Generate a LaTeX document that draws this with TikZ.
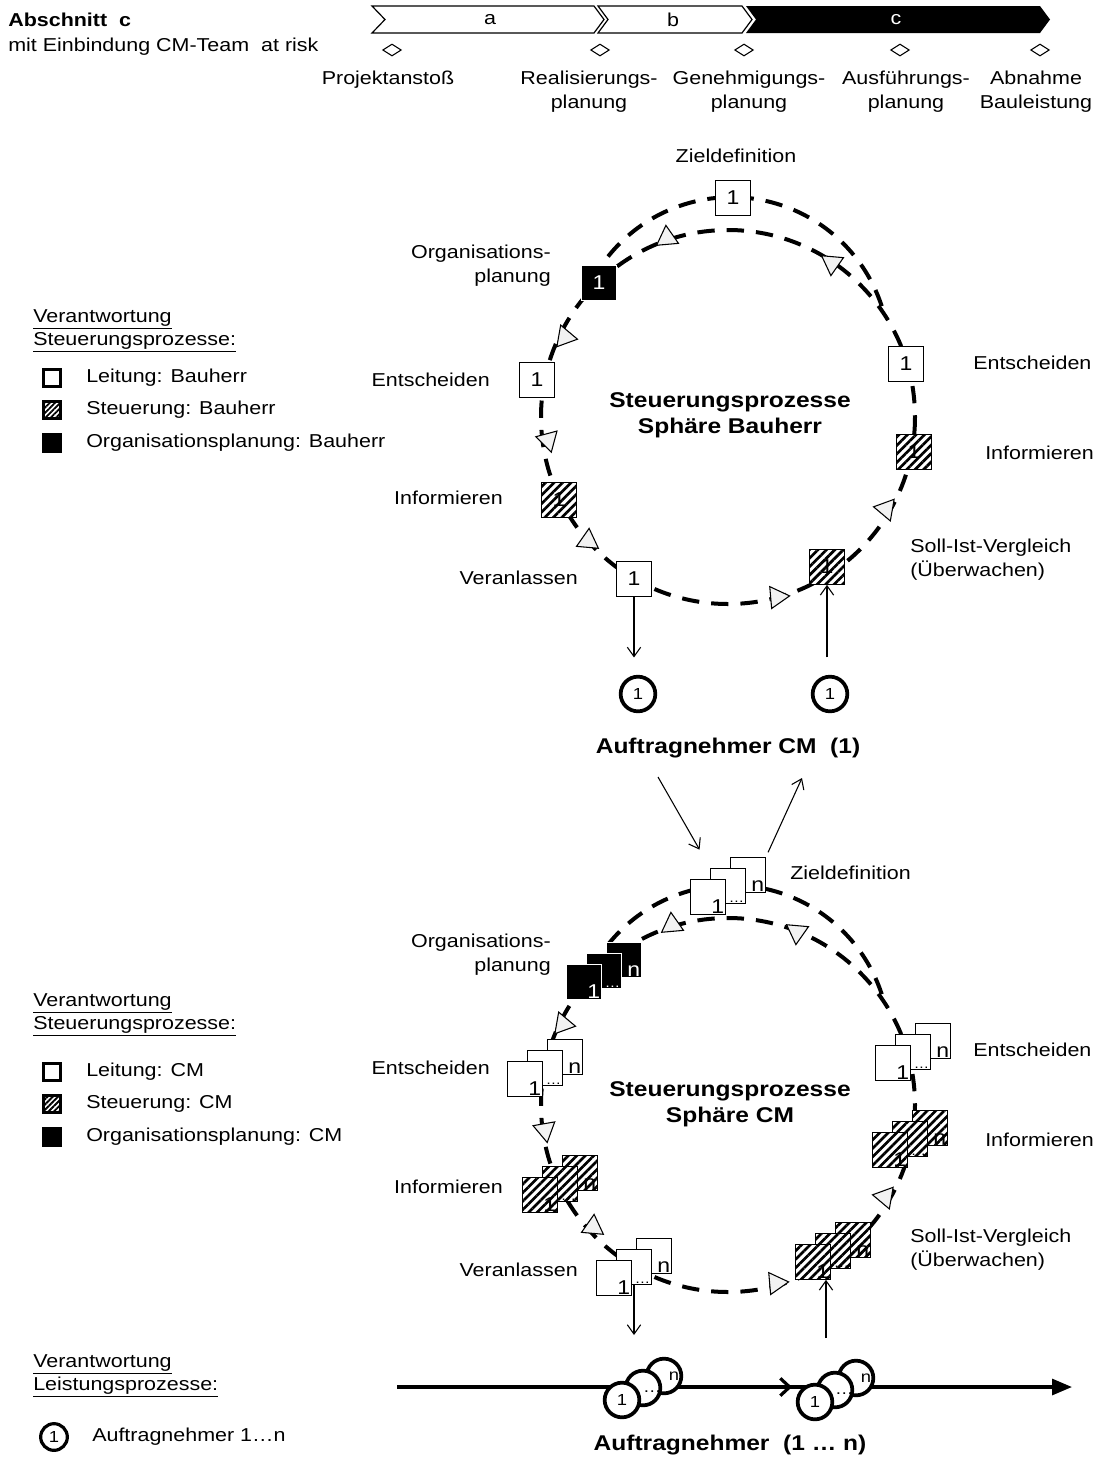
\documentclass[tikz,border=0pt]{standalone}
\usepackage{fontspec}
\setmainfont{Liberation Sans}[FakeStretch=1.15]
\usetikzlibrary{positioning,shapes.geometric,arrows.meta,patterns.meta}

\begin{document}
\begin{tikzpicture}[x=0.75pt,y=-0.75pt,
  txt/.style={font=\fontsize{14}{18}\selectfont, inner sep=0pt},
  head/.style={font=\bfseries\fontsize{16}{19.5}\selectfont, align=center, inner sep=0pt},
  box/.style={draw, minimum size=26pt, inner sep=0pt, line width=0.8pt, font=\fontsize{15}{15}\selectfont},
  lead/.style={box, fill=white},
  steer/.style={box, preaction={fill=white}, pattern={Lines[angle=45,distance=4.5pt,line width=2pt]}},
  orga/.style={box, fill=black, draw=white, text=white},
  nb/.style={label={[anchor=south east,inner sep=1pt,font=\fontsize{15}{15}\selectfont]south east:#1}},
  nw/.style={label={[anchor=south east,inner sep=1pt,text=white,font=\fontsize{15}{15}\selectfont]south east:#1}},
  ring/.style={line width=3pt, dash pattern=on 13pt off 9pt},
  tri/.style={regular polygon, regular polygon sides=3, draw, fill=black!5, minimum size=19pt, inner sep=0pt, line width=0.8pt, rotate=#1},
  an/.style={circle, draw, fill=white, line width=2.8pt, minimum size=26pt, inner sep=0pt, font=\fontsize{12}{12}\selectfont},
  anl/.style={label={[anchor=center,label distance=-7pt,font=\fontsize{12}{12}\selectfont]#1}},
  arr/.style={-{Straight Barb[length=7pt,width=10pt]}, line width=0.8pt},
  chev/.style={draw, line width=0.9pt},
  ms/.style={diamond, draw, line width=0.8pt, minimum width=14pt, minimum height=9pt, inner sep=0pt},
  icon/.style={minimum size=13pt, inner sep=0pt}
]
\useasboundingbox (0,0) rectangle (1105,1461);

% Kopfzeile
\node[txt, anchor=west, font=\bfseries\fontsize{14}{18}\selectfont] (ab) at (8,20) {Abschnitt~~c};
\node[txt, anchor=west] (ein) at (8,47) {mit Einbindung CM-Team~~at risk};

\draw[chev, fill=white] (372,6) -- (594,6) -- (604,19.5) -- (594,33) -- (372,33) -- (385,19.5) -- cycle;
\draw[chev, fill=white] (598,6) -- (742,6) -- (752,19.5) -- (742,33) -- (598,33) -- (608,19.5) -- cycle;
\fill (746,6) -- (1040,6) -- (1050,19.5) -- (1040,33) -- (746,33) -- (756,19.5) -- cycle;
\node[txt] (pa) at (490,19.5) {a};
\node[txt] (pb) at (673,19.5) {b};
\node[txt, text=white] (pc) at (896,19.5) {c};

\node[ms] (m1) at (392,50) {};
\node[ms] (m2) at (600,50) {};
\node[ms] (m3) at (744,50) {};
\node[ms] (m4) at (900,50) {};
\node[ms] (m5) at (1040,50) {};
\node[txt] (lm1) at (388,80) {Projektanstoß};
\node[txt, align=center] (lm2) at (589,92) {Realisierungs-\\planung};
\node[txt, align=center] (lm3) at (749,92) {Genehmigungs-\\planung};
\node[txt, align=center] (lm4) at (906,92) {Ausführungs-\\planung};
\node[txt, align=center] (lm5) at (1036,92) {Abnahme\\Bauleistung};

% Legenden
\node[txt, anchor=north west, align=left, font=\fontsize{14}{17.5}\selectfont] (leg1) at (33,309) {\underline{Verantwortung}\\\underline{Steuerungsprozesse:}};
\node[icon, draw, fill=white, line width=2.5pt] (q1a) at (52,378) {};
\node[icon, draw, line width=1.8pt, preaction={fill=white}, pattern={Lines[angle=45,distance=2.8pt,line width=1.4pt]}] (q1b) at (52,410) {};
\node[icon, fill=black, minimum size=14.5pt] (q1c) at (52,443) {};
\node[txt, anchor=west] (lq1a) at (86,378) {Leitung: Bauherr};
\node[txt, anchor=west] (lq1b) at (86,410) {Steuerung: Bauherr};
\node[txt, anchor=west] (lq1c) at (86,443) {Organisationsplanung: Bauherr};

\node[txt, anchor=north west, align=left, font=\fontsize{14}{17.5}\selectfont] (leg2) at (33,993) {\underline{Verantwortung}\\\underline{Steuerungsprozesse:}};
\node[icon, draw, fill=white, line width=2.5pt] (q2a) at (52,1072) {};
\node[icon, draw, line width=1.8pt, preaction={fill=white}, pattern={Lines[angle=45,distance=2.8pt,line width=1.4pt]}] (q2b) at (52,1104) {};
\node[icon, fill=black, minimum size=14.5pt] (q2c) at (52,1137) {};
\node[txt, anchor=west] (lq2a) at (86,1072) {Leitung: CM};
\node[txt, anchor=west] (lq2b) at (86,1104) {Steuerung: CM};
\node[txt, anchor=west] (lq2c) at (86,1137) {Organisationsplanung: CM};

\node[txt, anchor=north west, align=left, font=\fontsize{14}{17.5}\selectfont] (leg3) at (33,1354) {\underline{Verantwortung}\\\underline{Leistungsprozesse:}};
\node[an, minimum size=20pt, line width=2.4pt] (q3) at (54,1437) {1};
\node[txt, anchor=west] (lq3) at (92,1437) {Auftragnehmer 1…n};

% Regelkreis Bauherr
\coordinate (c1) at (728,417);
\draw[ring] (c1) circle[radius=187];
\draw[ring] (592,281) arc[start angle=-152, end angle=-17, radius=158];

\node[tri=-100] (t1) at (565,337) {};
\node[tri=-165] (t2) at (548,440) {};
\node[tri=-125] (t3) at (588,541) {};
\node[tri=-85] (t4) at (777,597) {};
\node[tri=-40] (t5) at (886,509) {};
\node[tri=5] (t6) at (667,238) {};
\node[tri=-185] (t7) at (832,263) {};

\node[lead] (z1) at (733,198) {1};
\node[orga] (o1) at (599,283) {1};
\node[lead] (e1) at (537,380) {1};
\node[steer] (i1) at (559,500) {1};
\node[lead] (v1) at (634,579) {1};
\node[steer] (s1) at (827,567) {1};
\node[steer] (j1) at (914,452) {1};
\node[lead] (f1) at (906,364) {1};

\node[txt] (lz1) at (736,156) {Zieldefinition};
\node[txt, anchor=east, align=right] (lo1) at (551,266) {Organisations-\\planung};
\node[txt, anchor=east] (le1) at (490,380) {Entscheiden};
\node[txt, anchor=east] (li1) at (503,498) {Informieren};
\node[txt, anchor=east] (lv1) at (578,578) {Veranlassen};
\node[txt, anchor=west, align=left] (ls1) at (910,560) {Soll-Ist-Vergleich\\(Überwachen)};
\node[txt, anchor=west] (lj1) at (985,453) {Informieren};
\node[txt, anchor=west] (lf1) at (973,363) {Entscheiden};
\node[head] (h1) at (730,415) {Steuerungsprozesse\\Sphäre Bauherr};

\node[an] (k1) at (638,694) {1};
\node[an] (k2) at (830,694) {1};
\draw[arr, shorten >=13pt] (v1.south) -- (v1.south |- k1.north);
\draw[arr, shorten <=13pt] (s1.south |- k2.north) -- (s1.south);
\node[head] (acm) at (728,748) {Auftragnehmer CM~~(1)};

% Regelkreis CM
\coordinate (c2) at (728,1105);
\draw[ring] (c2) circle[radius=187];
\draw[ring] (592,969) arc[start angle=-152, end angle=-17, radius=158];

\node[tri=-100] (t21) at (563,1024) {};
\node[tri=-170] (t22) at (545,1130) {};
\node[tri=-125] (t23) at (593,1227) {};
\node[tri=-85] (t24) at (776,1283) {};
\node[tri=-40] (t25) at (885,1197) {};
\node[tri=5] (t26) at (672,925) {};
\node[tri=-185] (t27) at (797,932) {};

\node[lead, nb=n] (z2b) at (748,875) {};
\node[lead, nb={\fontsize{10}{10}\selectfont…}] (z2m) at (728,886) {};
\node[lead, nb=1] (z2f) at (708,897) {};
\node[orga, nw=n] (o2b) at (624,960) {};
\node[orga, nw={\fontsize{10}{10}\selectfont…}] (o2m) at (604,971) {};
\node[orga, nw=1] (o2f) at (584,982) {};
\node[lead, nb=n] (e2b) at (565,1057) {};
\node[lead, nb={\fontsize{10}{10}\selectfont…}] (e2m) at (545,1068) {};
\node[lead, nb=1] (e2f) at (525,1079) {};
\node[steer, nb=n] (i2b) at (580,1173) {};
\node[steer, nb={\fontsize{10}{10}\selectfont…}] (i2m) at (560,1184) {};
\node[steer, nb=1] (i2f) at (540,1195) {};
\node[lead, nb=n] (v2b) at (654,1256) {};
\node[lead, nb={\fontsize{10}{10}\selectfont…}] (v2m) at (634,1267) {};
\node[lead, nb=1] (v2f) at (614,1278) {};
\node[steer, nb=n] (s2b) at (853,1240) {};
\node[steer, nb={\fontsize{10}{10}\selectfont…}] (s2m) at (833,1251) {};
\node[steer, nb=1] (s2f) at (813,1262) {};
\node[steer, nb=n] (j2b) at (930,1128) {};
\node[steer, nb={\fontsize{10}{10}\selectfont…}] (j2m) at (910,1139) {};
\node[steer, nb=1] (j2f) at (890,1150) {};
\node[lead, nb=n] (f2b) at (933,1041) {};
\node[lead, nb={\fontsize{10}{10}\selectfont…}] (f2m) at (913,1052) {};
\node[lead, nb=1] (f2f) at (893,1063) {};

\node[txt, anchor=west] (lz2) at (790,873) {Zieldefinition};
\node[txt, anchor=east, align=right] (lo2) at (551,955) {Organisations-\\planung};
\node[txt, anchor=east] (le2) at (490,1068) {Entscheiden};
\node[txt, anchor=east] (li2) at (503,1187) {Informieren};
\node[txt, anchor=east] (lv2) at (578,1270) {Veranlassen};
\node[txt, anchor=west, align=left] (ls2) at (910,1250) {Soll-Ist-Vergleich\\(Überwachen)};
\node[txt, anchor=west] (lj2) at (985,1140) {Informieren};
\node[txt, anchor=west] (lf2) at (973,1050) {Entscheiden};
\node[head] (h2) at (730,1104) {Steuerungsprozesse\\Sphäre CM};

\coordinate (p1) at (658,777);
\coordinate (p3) at (802,778);
\draw[arr, shorten >=16pt] (p1) -- (z2m.north west);
\draw[arr, shorten <=4pt] (z2b.north east) -- (p3);

% Leistungsprozesse
\coordinate (d1) at (634,1335);
\coordinate (u1) at (826,1338);
\draw[arr] (v2m.south) -- (d1);
\draw[arr] (u1) -- (u1 |- s2f.south);

\coordinate (ls) at (397,1387);
\coordinate (le) at (1072,1387);
\coordinate (mk) at (792,1387);
\draw[line width=2.4pt, -{Triangle[length=15pt,width=12pt]}] (ls) -- (le);
\draw[line width=2.4pt, -{Straight Barb[length=7pt,width=13pt]}] (ls) -- (mk);

\node[an, anl=0:n] (g1n) at (664,1376) {};
\node[an, anl=-20:…] (g1m) at (643,1388) {};
\node[an] (g1f) at (622,1400) {1};
\node[an, anl=0:n] (g2n) at (856,1378) {};
\node[an, anl=-20:…] (g2m) at (835,1390) {};
\node[an] (g2f) at (815,1402) {1};

\node[head] (atn) at (730,1445) {Auftragnehmer~~(1 … n)};
\end{tikzpicture}
\end{document}
